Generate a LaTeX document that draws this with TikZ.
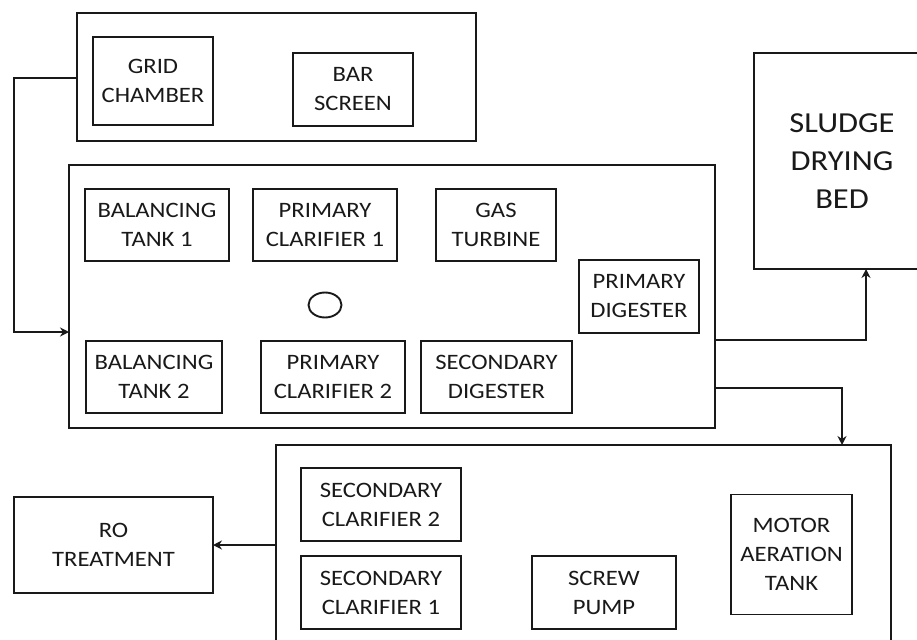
\documentclass[tikz,border=0pt]{standalone}
\usepackage{fontspec}
\setmainfont{Carlito}[FakeStretch=1.12]
\usetikzlibrary{arrows.meta,shapes.geometric}
\tikzset{
  box/.style={draw=black!90, line width=1.9pt, inner sep=0pt, outer sep=0pt, align=center,
    text=black!90, font=\fontsize{22}{29}\selectfont},
  bigtext/.style={font=\fontsize{29}{38}\selectfont},
  arr/.style={draw=black!90, line width=1.9pt, -{Stealth[length=9pt,width=9pt]}},
}
\begin{document}
\begin{tikzpicture}[x=1pt,y=-1pt]
\fill[white] (0,0) rectangle (917,639);
\useasboundingbox (0,0) rectangle (917,639);
\clip (0,0) rectangle (917,639);
% top group
\node[box, minimum width=399, minimum height=128] (top) at (276.5,77) {};
\node[box, minimum width=120, minimum height=88] (grid) at (153,81) {GRID\\CHAMBER};
\node[box, minimum width=120, minimum height=73] (bar) at (353,89.5) {BAR\\SCREEN};
% middle group
\node[box, minimum width=646, minimum height=263] (mid) at (392,296.5) {};
\node[box, minimum width=144, minimum height=72] (bt1) at (157,225) {BALANCING\\TANK 1};
\node[box, minimum width=144, minimum height=72] (pc1) at (325,225) {PRIMARY\\CLARIFIER 1};
\node[box, minimum width=120, minimum height=72] (gas) at (496,225) {GAS\\TURBINE};
\node[box, minimum width=120, minimum height=73] (pd) at (639,296.5) {PRIMARY\\DIGESTER};
\node[box, minimum width=136, minimum height=72] (bt2) at (154,377) {BALANCING\\TANK 2};
\node[box, minimum width=144, minimum height=72] (pc2) at (333,377) {PRIMARY\\CLARIFIER 2};
\node[box, minimum width=151, minimum height=72] (sd) at (496.5,377) {SECONDARY\\DIGESTER};
\node[draw=black!90, line width=1.9pt, ellipse, minimum width=33, minimum height=25, inner sep=0pt] (ell) at (325,305) {};
% sludge drying bed
\node[box, bigtext, minimum width=176, minimum height=216] (sludge) at (842,161) {SLUDGE\\DRYING\\BED};
% bottom group
\node[box, minimum width=615, minimum height=215] (bot) at (583.5,552.5) {};
\node[box, minimum width=160, minimum height=73] (sc2) at (381,504.5) {SECONDARY\\CLARIFIER 2};
\node[box, minimum width=160, minimum height=73] (sc1) at (381,592.5) {SECONDARY\\CLARIFIER 1};
\node[box, minimum width=144, minimum height=73] (screw) at (604,592.5) {SCREW\\PUMP};
\node[box, minimum width=121, minimum height=120] (motor) at (791.5,554.5) {MOTOR\\AERATION\\TANK};
% RO treatment
\node[box, minimum width=199, minimum height=96] (ro) at (113.5,545) {RO\\TREATMENT};
% connectors
\coordinate (k1) at (14,78);
\coordinate (k2) at (14,332);
\draw[arr] (top.west |- k1) -- (k1) -- (k2) -- (mid.west |- k2);
\coordinate (k3) at (866,340);
\draw[arr] (mid.east |- k3) -| (k3 |- sludge.south);
\coordinate (k4) at (842,388);
\draw[arr] (mid.east |- k4) -| (k4 |- bot.north);
\draw[arr] (bot.west |- ro.east) -- (ro.east);
\end{tikzpicture}
\end{document}
